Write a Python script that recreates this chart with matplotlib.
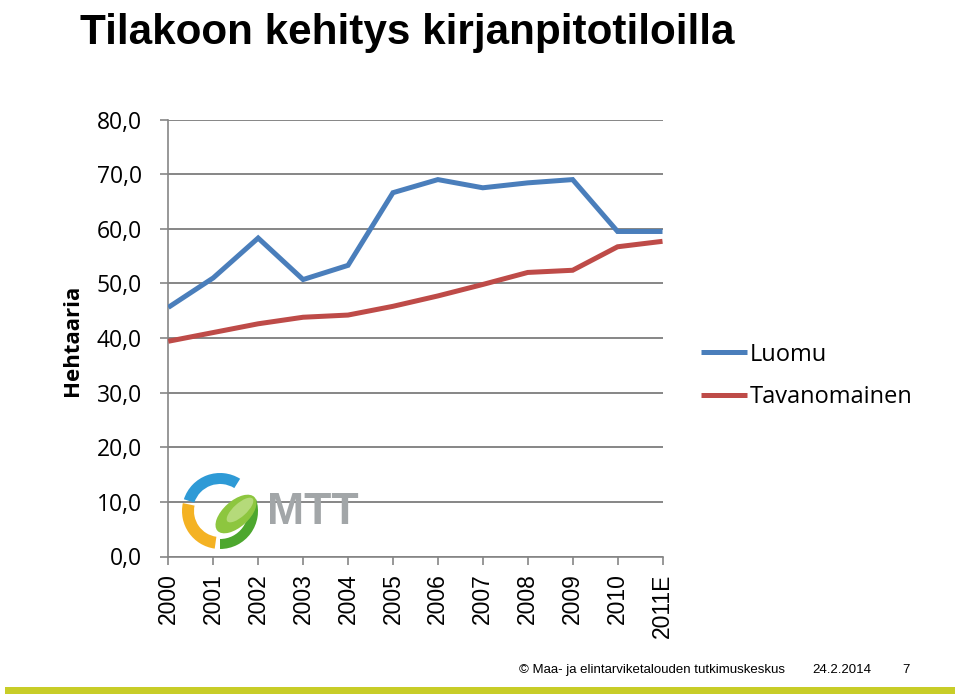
import matplotlib
matplotlib.use("Agg")
import matplotlib.pyplot as plt
from matplotlib.patches import Wedge, Ellipse, Rectangle
import numpy as np

years = ["2000", "2001", "2002", "2003", "2004", "2005", "2006", "2007", "2008", "2009", "2010", "2011E"]
luomu = [45.6, 51.0, 58.3, 50.7, 53.3, 66.6, 69.0, 67.5, 68.4, 69.0, 59.5, 59.5]
tavanomainen = [39.4, 41.0, 42.6, 43.8, 44.2, 45.8, 47.7, 49.8, 52.0, 52.4, 56.7, 57.7]
yticks = [0, 10, 20, 30, 40, 50, 60, 70, 80]
ytick_labels = ["0,0", "10,0", "20,0", "30,0", "40,0", "50,0", "60,0", "70,0", "80,0"]

W, H = 960, 696
fig = plt.figure(figsize=(W / 100, H / 100), dpi=100)
fig.patch.set_facecolor("white")

def fx(x):
    return x / W

def fy(y):
    return 1 - y / H

ax_left, ax_right, ax_top, ax_bottom = 168.3, 662.5, 119.5, 556.5
ax = fig.add_axes([fx(ax_left), fy(ax_bottom), fx(ax_right - ax_left), (ax_bottom - ax_top) / H])

x = np.arange(len(years))
blue = "#4A7EBB"
red = "#BE4B48"
grid_c = "#868686"

ax.plot(x, luomu, color=blue, lw=3.6, solid_capstyle="butt", solid_joinstyle="miter", label="Luomu", zorder=3)
ax.plot(x, tavanomainen, color=red, lw=3.6, solid_capstyle="butt", solid_joinstyle="miter", label="Tavanomainen", zorder=3)

ax.set_xlim(0, len(years) - 1)
ax.set_ylim(0, 80)
ax.set_yticks(yticks)
ax.set_yticklabels(ytick_labels, fontsize=16.5, family=["Open Sans", "DejaVu Sans"], color="#000000")
ax.set_xticks(x)
ax.set_xticklabels(years, rotation=90, fontsize=16.5, family=["Liberation Sans", "DejaVu Sans"])
ax.grid(axis="y", color=grid_c, lw=1.4, zorder=1)
ax.set_axisbelow(True)
for s in ["top", "right"]:
    ax.spines[s].set_visible(False)
for s in ["left", "bottom"]:
    ax.spines[s].set_color(grid_c)
    ax.spines[s].set_linewidth(1.2)
ax.tick_params(axis="y", length=6, width=1.2, color=grid_c, pad=13)
ax.tick_params(axis="x", length=6, width=1.2, color=grid_c, pad=6)

fig.text(fx(72), fy(340), "Hehtaaria", rotation=90, ha="center", va="center",
         fontsize=16, fontweight="bold", family=["Open Sans", "DejaVu Sans"])

leg = ax.legend(loc="center left", bbox_to_anchor=(fx(692), fy(376)), bbox_transform=fig.transFigure,
                frameon=False, prop={"family": ["Open Sans", "DejaVu Sans"], "size": 17},
                handlelength=1.95, handletextpad=0.08, labelspacing=0.8, borderaxespad=0)

fig.text(fx(80), fy(33), "Tilakoon kehitys kirjanpitotiloilla", ha="left", va="center",
         fontsize=30.4, fontweight="bold", family=["Liberation Sans", "DejaVu Sans"])

ff = ["Liberation Sans", "DejaVu Sans"]
fig.text(fx(519), fy(670), "\u00a9 Maa- ja elintarviketalouden tutkimuskeskus", ha="left", va="center",
         fontsize=9.5, family=ff)
fig.text(fx(812), fy(670), "24.2.2014", ha="left", va="center", fontsize=9.5, family=ff)
fig.text(fx(902), fy(670), "7", ha="left", va="center", fontsize=9.5, family=ff)

# overlay in pixel coordinates (y up)
ov = fig.add_axes([0, 0, 1, 1], zorder=5)
ov.set_xlim(0, W)
ov.set_ylim(0, H)
ov.axis("off")
ov.patch.set_alpha(0)

ov.add_patch(Rectangle((5, H - 694), 950, 7, color="#C8CD28", lw=0))

cx, cy = 220, H - 511
ov.add_patch(Wedge((cx, cy), 38, 58, 162, width=11, color="#2E9AD6", lw=0))
ov.add_patch(Wedge((cx, cy), 38, 168, 262, width=12, color="#F4B223", lw=0))
ov.add_patch(Wedge((cx, cy), 38, 270, 378, width=10, color="#4DA72E", lw=0))
ov.add_patch(Ellipse((236, H - 514), 50, 26, angle=42, color="#8DC63F", lw=0))
ov.add_patch(Ellipse((240, H - 510), 34, 13, angle=42, color="#B5DA7A", lw=0))
ov.text(267, H - 512, "MTT", ha="left", va="center", fontsize=32, fontweight="bold",
        color="#A2A6A8", family=ff)

fig.savefig("out.png", dpi=100, facecolor="white")
